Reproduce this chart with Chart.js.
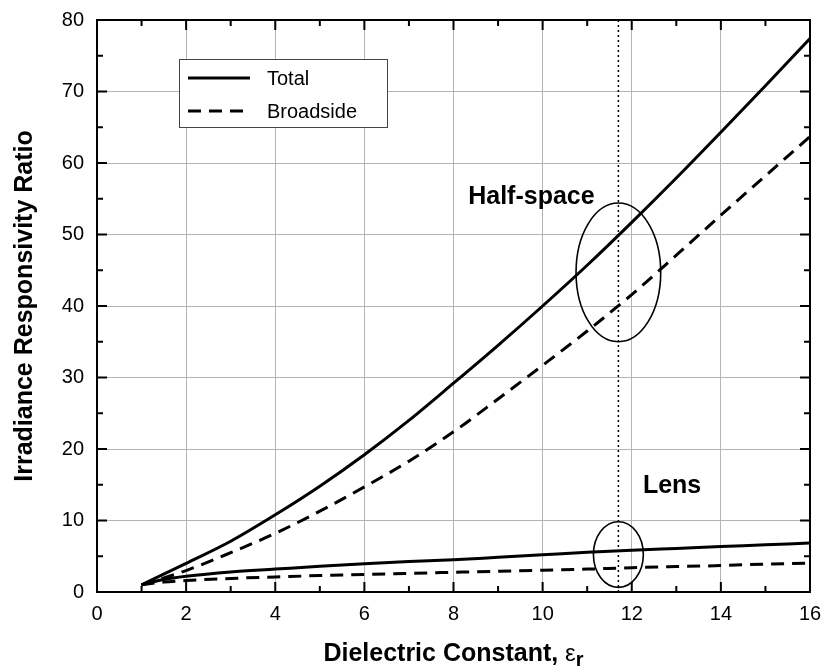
<!DOCTYPE html>
<html>
<head>
<meta charset="utf-8">
<script src="https://cdn.jsdelivr.net/npm/chart.js@4.4.1/dist/chart.umd.min.js"></script>
<style>
  html, body { margin: 0; padding: 0; background: #fff; }
</style>
</head>
<body>
<canvas id="chart" width="822" height="669"></canvas>
<script>
"use strict";

// dielectric constant samples
const halfEps = [1, 2, 3, 4, 5, 6, 7, 8, 9, 10, 11, 12, 13, 14, 15, 16];
const lensEps = [1, 1.5, 2, 3, 4, 5, 6, 7, 8, 9, 10, 11, 12, 13, 14, 15, 16];

// irradiance responsivity ratio, half-space case
const halfTotal = [1, 4.0, 7.1, 10.8, 14.8, 19.2, 24.0, 29.2, 34.5, 40.0, 45.7, 51.7, 57.9, 64.3, 70.8, 77.4];
const halfBroadside = [1, 3.0, 5.5, 8.2, 11.3, 14.7, 18.3, 22.4, 27.0, 31.7, 36.5, 41.6, 47.1, 52.7, 58.2, 63.7];

// irradiance responsivity ratio, lens case
const lensTotal = [1, 1.75, 2.2, 2.8, 3.2, 3.6, 3.95, 4.25, 4.5, 4.85, 5.2, 5.55, 5.85, 6.1, 6.35, 6.6, 6.85];
const lensBroadside = [1, 1.4, 1.6, 1.9, 2.1, 2.3, 2.45, 2.6, 2.75, 2.9, 3.05, 3.2, 3.4, 3.55, 3.7, 3.9, 4.05];

const seriesNames = ["Total", "Broadside"];
const xTicks = [0, 2, 4, 6, 8, 10, 12, 14, 16];
const yTicks = [0, 10, 20, 30, 40, 50, 60, 70, 80];
const siliconEps = 11.7;

const FONT = "'Liberation Sans', Arial, sans-serif";
const DASH = [13, 8];

function toPoints(xs, ys) {
  return xs.map((x, i) => ({ x: x, y: ys[i] }));
}

function curve(label, xs, ys, dashed) {
  return {
    label: label,
    data: toPoints(xs, ys),
    borderColor: "#000",
    borderWidth: 3,
    borderDash: dashed ? DASH : [],
    pointRadius: 0,
    fill: false,
    cubicInterpolationMode: "monotone"
  };
}

// circled groups with their labels (data units)
const groups = [
  { name: "Half-space", cx: siliconEps, cy: 44.7, rx: 0.95, ry: 9.7, tx: 8.33, ty: 55.2 },
  { name: "Lens", cx: siliconEps, cy: 5.24, rx: 0.56, ry: 4.59, tx: 12.25, ty: 14.8 }
];

const decorations = {
  id: "decorations",
  afterDatasetsDraw(chart) {
    const ctx = chart.ctx;
    const a = chart.chartArea;
    const xs = chart.scales.x;
    const ys = chart.scales.y;
    ctx.save();

    // dotted marker line
    ctx.strokeStyle = "#000";
    ctx.lineWidth = 1.5;
    ctx.setLineDash([2, 3]);
    const mx = xs.getPixelForValue(siliconEps);
    ctx.beginPath();
    ctx.moveTo(mx, a.top);
    ctx.lineTo(mx, a.bottom);
    ctx.stroke();
    ctx.setLineDash([]);

    // ellipses and group labels
    groups.forEach(g => {
      const cx = xs.getPixelForValue(g.cx);
      const cy = ys.getPixelForValue(g.cy);
      const rx = Math.abs(xs.getPixelForValue(g.cx + g.rx) - cx);
      const ry = Math.abs(ys.getPixelForValue(g.cy + g.ry) - cy);
      ctx.lineWidth = 1.6;
      ctx.beginPath();
      ctx.ellipse(cx, cy, rx, ry, 0, 0, Math.PI * 2);
      ctx.stroke();
      ctx.fillStyle = "#000";
      ctx.font = "bold 25px " + FONT;
      ctx.textAlign = "left";
      ctx.textBaseline = "middle";
      ctx.fillText(g.name, xs.getPixelForValue(g.tx), ys.getPixelForValue(g.ty));
    });

    // frame
    ctx.lineWidth = 2;
    ctx.strokeRect(a.left, a.top, a.right - a.left, a.bottom - a.top);

    // inward ticks on all four sides
    ctx.beginPath();
    for (let v = 0; v <= 16; v++) {
      const px = xs.getPixelForValue(v);
      const len = v % 2 === 0 ? 10 : 6;
      ctx.moveTo(px, a.bottom); ctx.lineTo(px, a.bottom - len);
      ctx.moveTo(px, a.top); ctx.lineTo(px, a.top + len);
    }
    for (let v = 0; v <= 80; v += 5) {
      const py = ys.getPixelForValue(v);
      const len = v % 10 === 0 ? 10 : 6;
      ctx.moveTo(a.left, py); ctx.lineTo(a.left + len, py);
      ctx.moveTo(a.right, py); ctx.lineTo(a.right - len, py);
    }
    ctx.stroke();

    // legend box
    const lx = a.left + 82, ly = a.top + 39, lw = 208, lh = 68;
    ctx.fillStyle = "#fff";
    ctx.fillRect(lx, ly, lw, lh);
    ctx.strokeStyle = "#444";
    ctx.lineWidth = 1;
    ctx.strokeRect(lx + 0.5, ly + 0.5, lw, lh);
    ctx.strokeStyle = "#000";
    ctx.lineWidth = 3;
    ctx.font = "20px " + FONT;
    ctx.fillStyle = "#000";
    seriesNames.forEach((name, i) => {
      const yy = ly + 19 + i * 33;
      ctx.setLineDash(i === 0 ? [] : DASH);
      ctx.beginPath();
      ctx.moveTo(lx + 9, yy);
      ctx.lineTo(lx + 71, yy);
      ctx.stroke();
      ctx.fillText(name, lx + 88, yy + 1);
    });
    ctx.setLineDash([]);

    // x axis title with subscript
    const main = "Dielectric Constant, ";
    ctx.font = "bold 25px " + FONT;
    const w1 = ctx.measureText(main).width;
    ctx.font = "24px " + FONT;
    const w2 = ctx.measureText("\u03b5").width;
    ctx.font = "bold 20px " + FONT;
    const w3 = ctx.measureText("r").width;
    let tx = (a.left + a.right) / 2 - (w1 + w2 + w3) / 2;
    const base = 661;
    ctx.textBaseline = "alphabetic";
    ctx.font = "bold 25px " + FONT;
    ctx.fillText(main, tx, base);
    tx += w1;
    ctx.font = "24px " + FONT;
    ctx.fillText("\u03b5", tx, base);
    tx += w2;
    ctx.font = "bold 20px " + FONT;
    ctx.fillText("r", tx, base + 5);

    ctx.restore();
  }
};

const chart = new Chart(document.getElementById("chart"), {
  type: "line",
  data: {
    datasets: [
      curve(seriesNames[0], halfEps, halfTotal, false),
      curve(seriesNames[1], halfEps, halfBroadside, true),
      curve(seriesNames[0] + " (lens)", lensEps, lensTotal, false),
      curve(seriesNames[1] + " (lens)", lensEps, lensBroadside, true)
    ]
  },
  options: {
    responsive: false,
    animation: false,
    layout: { padding: { top: 20, right: 12, left: 0, bottom: 0 } },
    plugins: {
      legend: { display: false },
      tooltip: { enabled: false }
    },
    scales: {
      x: {
        type: "linear",
        min: 0,
        max: 16,
        afterBuildTicks: s => { s.ticks = xTicks.map(v => ({ value: v })); },
        afterFit: s => { s.height = 77; s.paddingLeft = 0; s.paddingRight = 0; },
        grid: { color: "#b4b4b4", lineWidth: 1, drawTicks: false },
        border: { display: false },
        ticks: { color: "#000", font: { family: FONT, size: 20 }, padding: 10, maxRotation: 0 }
      },
      y: {
        type: "linear",
        min: 0,
        max: 80,
        afterBuildTicks: s => { s.ticks = yTicks.map(v => ({ value: v })); },
        afterFit: s => { s.width = 97; s.paddingTop = 0; s.paddingBottom = 0; },
        grid: { color: "#b4b4b4", lineWidth: 1, drawTicks: false },
        border: { display: false },
        ticks: { color: "#000", font: { family: FONT, size: 20 }, padding: 13 },
        title: {
          display: true,
          text: "Irradiance Responsivity Ratio",
          color: "#000",
          font: { family: FONT, size: 25, weight: "bold" },
          padding: { top: 10, bottom: 0 }
        }
      }
    }
  },
  plugins: [decorations]
});
</script>
</body>
</html>
